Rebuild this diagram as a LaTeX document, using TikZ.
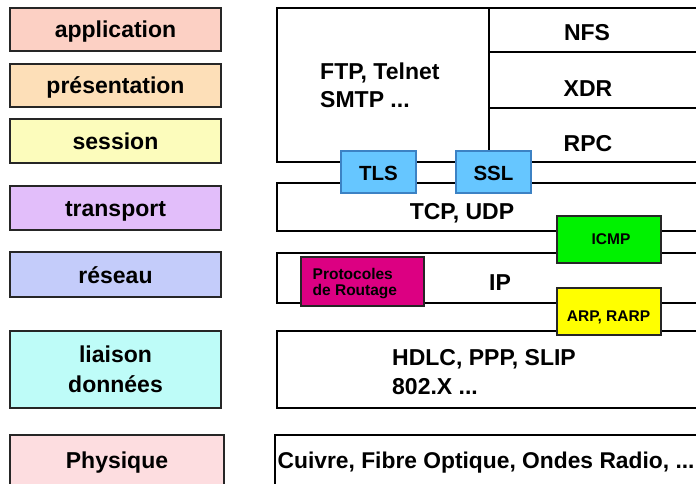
\documentclass[tikz,border=0pt]{standalone}
\usepackage{fontspec}
\setmainfont{Liberation Sans}
\definecolor{cApp}{HTML}{FCD0C4}
\definecolor{cPres}{HTML}{FDDFB8}
\definecolor{cSess}{HTML}{FCFCBC}
\definecolor{cTrans}{HTML}{E2BEFA}
\definecolor{cNet}{HTML}{C4CCFA}
\definecolor{cLink}{HTML}{BEFCF8}
\definecolor{cPhys}{HTML}{FDDDE0}
\definecolor{cTls}{HTML}{66C6FF}
\definecolor{cTlsB}{HTML}{3C82C4}
\definecolor{cIcmp}{HTML}{00F200}
\definecolor{cArp}{HTML}{FFFF00}
\definecolor{cRout}{HTML}{DC0082}
\newcommand\bigtxt{\fontsize{23}{28}\selectfont\bfseries}
\newcommand\smalltxt{\fontsize{15.5}{16.5}\selectfont\bfseries}
\begin{document}
\begin{tikzpicture}[x=1pt,y=-1pt,
  osi/.style={draw=black!85, line width=1.6pt, inner sep=0pt, font=\bigtxt,
    minimum width=211pt, text height=17pt, text depth=0pt},
  layer/.style={draw=black, line width=1.6pt, inner sep=0pt, minimum width=433pt},
  proto/.style={draw=black!85, line width=1.3pt, inner sep=0pt, font=\smalltxt},
  txt/.style={inner sep=0pt, font=\bigtxt, anchor=base},
  ltxt/.style={inner sep=0pt, font=\bigtxt, anchor=base west},
  stxt/.style={inner sep=0pt, font=\smalltxt, anchor=base},
  sep/.style={draw=black, line width=1.6pt}]
\clip (0,0) rectangle (696,484);
\useasboundingbox (0,0) rectangle (696,484);

% OSI layer names
\node[osi, fill=cApp,   minimum height=43pt] (app)   at (115.5,29.5) {application};
\node[osi, fill=cPres,  minimum height=43pt] (pres)  at (115.5,85.5) {présentation};
\node[osi, fill=cSess,  minimum height=44pt] (sess)  at (115.5,141) {session};
\node[osi, fill=cTrans, minimum height=44pt] (trans) at (115.5,208) {transport};
\node[osi, fill=cNet,   minimum height=45pt] (net)   at (115.5,274.5) {réseau};
\node[osi, fill=cLink,  minimum height=77pt] (link)  at (115.5,369.5) {};
\node[txt] (link1) at (115.5,362) {liaison};
\node[txt] (link2) at (115.5,392) {données};
\node[osi, fill=cPhys,  minimum height=54pt, minimum width=214pt] (phys) at (117,462) {};
\node[txt] (physt) at (117,468.5) {Physique};

% protocol stack
\node[layer, minimum height=154pt] (upper) at (493.5,85) {};
\draw[sep] (489,8) -- (489,162);
\draw[sep] (489,52) -- (710,52);
\draw[sep] (489,108) -- (710,108);
\node[ltxt] (ftp1) at (320,80) {FTP, Telnet};
\node[ltxt] (ftp2) at (320,108) {SMTP ...};
\node[txt] (nfs) at (587,41) {NFS};
\node[txt] (xdr) at (588,97) {XDR};
\node[txt] (rpc) at (588,152) {RPC};

\node[layer, minimum height=48pt] (tcp) at (493.5,207) {};
\node[txt] (tcpt) at (462,219) {TCP, UDP};

\node[layer, minimum height=50pt] (ip) at (493.5,278) {};
\node[txt] (ipt) at (500,290) {IP};

\node[layer, minimum height=77pt] (hdlc) at (493.5,369.5) {};
\node[ltxt] (hdlc1) at (392,365) {HDLC, PPP, SLIP};
\node[ltxt] (hdlc2) at (392,394) {802.X ...};

\node[layer, minimum height=55pt, minimum width=435pt] (medium) at (492.5,462.5) {};
\node[ltxt, font=\fontsize{22.8}{28}\selectfont\bfseries] (mediumt) at (277.5,468) {Cuivre, Fibre Optique, Ondes Radio, ...};

% protocols crossing layer boundaries
\node[proto, fill=cTls, draw=cTlsB, minimum width=75pt, minimum height=42pt] (tls) at (378.5,172) {};
\node[stxt, font=\fontsize{20.5}{24}\selectfont\bfseries] (tlst) at (378.5,180) {TLS};
\node[proto, fill=cTls, draw=cTlsB, minimum width=75pt, minimum height=42pt] (ssl) at (493.5,172) {};
\node[stxt, font=\fontsize{20.5}{24}\selectfont\bfseries] (sslt) at (493.5,180) {SSL};
\node[proto, fill=cIcmp, minimum width=104pt, minimum height=47pt] (icmp) at (609,239.5) {};
\node[stxt] (icmpt) at (611,244) {ICMP};
\node[proto, fill=cArp, minimum width=104pt, minimum height=47pt] (arp) at (609,311.5) {};
\node[stxt] (arpt) at (608.5,321) {ARP, RARP};
\node[proto, fill=cRout, minimum width=123pt, minimum height=49pt] (rout) at (362.5,281.5) {};
\node[stxt, anchor=base west] (rout1) at (312.5,279) {Protocoles};
\node[stxt, anchor=base west] (rout2) at (312.5,295.5) {de Routage};
\end{tikzpicture}
\end{document}
